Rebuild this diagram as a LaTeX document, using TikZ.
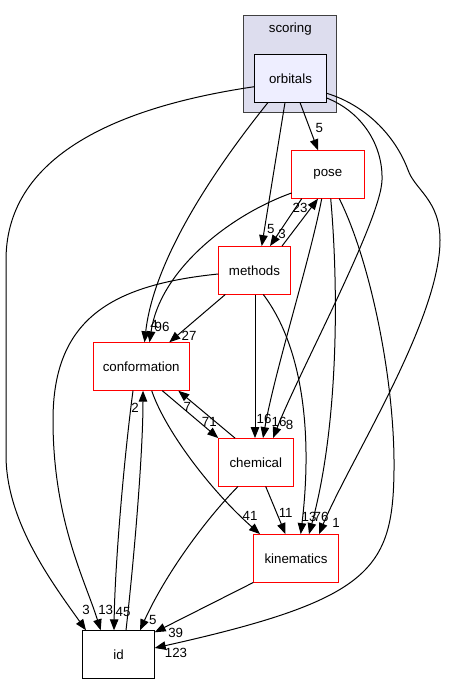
\documentclass[tikz,border=0pt]{standalone}
\usepackage{fontspec}
\setmainfont{Liberation Sans}
\usetikzlibrary{arrows.meta}
\definecolor{clusterfill}{HTML}{DDDDEE}
\definecolor{orbfill}{HTML}{EEEEFF}

\begin{document}
\begin{tikzpicture}[x=1pt,y=-1pt,inner sep=0pt,outer sep=0pt,line width=1pt,
	font=\fontsize{13.3}{16}\selectfont,
	dir/.style={draw=red,fill=white,minimum width=72.4pt,minimum height=48.4pt},
	cluster/.style={draw=black!75,fill=clusterfill,minimum width=93.3pt,minimum height=97.3pt}]
	\useasboundingbox (0,0) rectangle (449,684);
	\node[cluster] (scoring) at (290.3,64.3) {};
	\node (scoringtxt) at (290.3,29) {scoring};
	\node[dir,draw=black,fill=orbfill] (orbitals) at (290.5,78.3) {orbitals};
	\node[dir] (pose) at (327.8,174.5) {pose};
	\node[dir] (methods) at (254.5,270.3) {methods};
	\node[dir,minimum width=96.3pt] (conformation) at (141.2,366.5) {conformation};
	\node[dir,minimum width=75pt] (chemical) at (255.8,462.3) {chemical};
	\node[dir,minimum width=85.4pt] (kinematics) at (296,558.3) {kinematics};
	\node[dir,draw=black] (id) at (118.5,654.5) {id};
	\begin{scope}[->,>={Triangle[length=11pt,width=8.5pt]}]
	\draw ([xshift=9.5pt]orbitals.south) -- ([xshift=-9.8pt]pose.north);
	\draw ([xshift=-5.5pt]orbitals.south) -- ([xshift=7.2pt]methods.north);
	\draw ([xshift=-22.5pt]orbitals.south) .. controls (230,150) and (155,250) .. ([xshift=3.3pt]conformation.north);
	\draw ([yshift=-19.7pt]orbitals.east) .. controls (362,112) and (383,145) .. (382,180) .. controls (381,220) and (300,370) .. ([xshift=17.2pt]chemical.north);
	\draw ([yshift=-15pt]orbitals.east) .. controls (365,105) and (395,135) .. (408,170) .. controls (415,190) and (440,200) .. (440,240) .. controls (440,320) and (350,460) .. ([xshift=23pt]kinematics.north);
	\draw ([yshift=-8.4pt]orbitals.west) .. controls (130,105) and (6,150) .. (6,260) -- (6,455) .. controls (6,520) and (50,580) .. ([xshift=-32.5pt]id.north);
	\draw ([xshift=-26.1pt]pose.south) -- ([xshift=15.5pt]methods.north);
	\draw ([xshift=27.5pt]methods.north) -- ([xshift=-9.8pt]pose.south);
	\draw ([yshift=-18.5pt]pose.west) .. controls (230,215) and (160,270) .. ([xshift=8.3pt]conformation.north);
	\draw ([xshift=-6.1pt]pose.south) .. controls (310,260) and (275,370) .. ([xshift=7.2pt]chemical.north);
	\draw ([xshift=2.9pt]pose.south) .. controls (338,280) and (340,420) .. ([xshift=13pt]kinematics.north);
	\draw ([xshift=11.5pt]pose.south) .. controls (370,260) and (395,380) .. (394,470) .. controls (393,570) and (370,600) .. ([yshift=6.5pt]id.east);
	\draw ([xshift=0.5pt]methods.south) -- ([xshift=-0.8pt]chemical.north);
	\draw ([xshift=-29.2pt]methods.south) -- ([xshift=28.1pt]conformation.north);
	\draw ([xshift=8.8pt]methods.south) .. controls (305,350) and (312,440) .. ([xshift=4.7pt]kinematics.north);
	\draw ([yshift=-3.7pt]methods.west) .. controls (110,285) and (53,320) .. (53,420) .. controls (53,520) and (85,580) .. ([xshift=-17.8pt]id.north);
	\draw ([xshift=21.1pt]conformation.south) -- (chemical.north west);
	\draw ([xshift=-20.8pt]chemical.north) -- ([xshift=37.1pt]conformation.south);
	\draw ([xshift=10.5pt]conformation.south) .. controls (165,430) and (210,490) .. ([xshift=-36pt]kinematics.north);
	\draw ([xshift=-8.2pt]conformation.south) .. controls (125,450) and (115,560) .. ([xshift=-4.5pt]id.north);
	\draw ([xshift=7.5pt]id.north) .. controls (135,550) and (143,450) .. ([xshift=1.8pt]conformation.south);
	\draw ([xshift=9.9pt]chemical.south) -- ([xshift=-10.5pt]kinematics.north);
	\draw ([xshift=-17.8pt]chemical.south) .. controls (205,520) and (165,575) .. ([xshift=21.5pt]id.north);
	\draw (kinematics.south west) -- ([yshift=-2pt]id.north east);
	\end{scope}
	% edge counts
	\node (orbpose) at (319.3,128.3) {5};
	\node (orbmeth) at (270.7,229) {5};
	\node (posemeth) at (282,234) {3};
	\node (methpose) at (300,208.3) {23};
	\node (orbconf) at (154,325) {4};
	\node (poseconf) at (162,327) {96};
	\node (methconf) at (189,336) {27};
	\node (methchem) at (264,419.3) {16};
	\node (posechem) at (279,422) {16};
	\node (orbchem) at (289.5,425) {8};
	\node (confchem) at (209.3,421.7) {71};
	\node (chemconf) at (187.3,406.7) {7};
	\node (idconf) at (135,408) {2};
	\node (confkin) at (250,515.7) {41};
	\node (chemkin) at (285.7,512.7) {11};
	\node (methkin) at (309,516.7) {13};
	\node (posekin) at (321,516.7) {76};
	\node (orbkin) at (336,523) {1};
	\node (orbid) at (86,610) {3};
	\node (methid) at (105.7,610) {13};
	\node (confid) at (123,611.7) {45};
	\node (chemid) at (152.7,620) {5};
	\node (kinid) at (175.7,632.7) {39};
	\node (poseid) at (176,652.7) {123};
\end{tikzpicture}
\end{document}
